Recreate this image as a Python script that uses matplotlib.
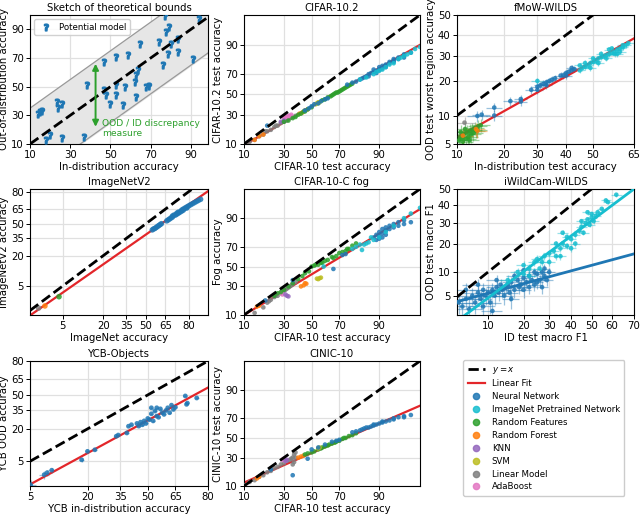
import math
from statistics import NormalDist

import numpy as np
import matplotlib
matplotlib.use("Agg")
import matplotlib.pyplot as plt
from matplotlib.lines import Line2D
from matplotlib.ticker import NullLocator

# ---------------------------------------------------------------- colours
NN, INET, RFEAT, FOREST = "#1f77b4", "#17becf", "#2ca02c", "#ff7f0e"
KNN, SVM, LINEAR, ADA = "#9467bd", "#bcbd22", "#7f7f7f", "#e377c2"
FIT = "#e3262a"

# ---------------------------------------------------------------- sketch panel
Q_X = [14, 15, 16, 23.5, 25.7, 24, 20, 18, 25.7, 37, 38.4, 47, 47, 48, 49.6, 53, 53, 53,
       58.7, 57, 56, 62.8, 62.3, 62.8, 63.6, 64.5, 67.8, 69.4, 74, 76, 78.5, 79.3, 77.7,
       80, 83.4, 83.4, 91, 94, 77]
Q_Y = [31, 32, 33, 39.5, 37.8, 35, 16, 13, 14, 15, 51, 67, 47.5, 44, 38, 71, 51, 44,
       72, 49.5, 37, 43, 53.4, 58, 61.5, 80, 49.5, 50.4, 81, 65, 73, 91.6, 88,
       80, 74, 83, 69.6, 97.5, 99]
BAND = 25
ARROW_X, ARROW_LO, ARROW_HI = 42.6, 22, 66

# ---------------------------------------------------------------- CIFAR-10.2
C102_FIT = (0.777, -0.314)
C102_NN_X = [20, 45, 48, 50, 52, 55, 57, 60, 62, 75, 78, 80, 82, 84, 85, 86, 87, 88, 88, 89,
             89, 90, 90, 91, 91, 92, 92, 93, 93, 94, 94, 95, 95, 96, 96, 97, 83, 86, 90, 92, 94, 96]
C102_NN_Y = [21, 34, 36, 38, 40, 41, 43, 45, 46, 60, 62, 63, 65, 67, 68, 70, 71, 72, 74, 73,
             71, 74, 76, 75, 77, 77, 78, 79, 80, 80, 82, 82, 83, 84, 85, 86, 66, 68, 73.5, 76, 81, 83]
C102_IN_X = [82, 85, 88, 89, 90, 91, 92, 93, 94, 95, 95.5, 96, 96.5, 97, 97.5, 98]
C102_IN_Y = [65, 67, 70, 72, 73, 74, 76, 78, 79, 82, 83, 84, 85, 86, 88, 89]
C102_RF_X = [30, 33, 36, 38, 40, 42, 44, 45, 47, 50, 55, 58, 60, 62, 64, 65, 66, 67, 68, 69,
             70, 71, 72, 73, 74, 75, 76, 77, 78]
C102_RF_Y = [24, 25, 27, 28, 30, 31, 33, 33, 35, 37, 41, 44, 45, 47, 48, 49, 50, 51, 52, 52,
             53, 54, 55, 56, 57, 58, 59, 60, 61]
C102_FOREST_X = [14, 16, 18, 41, 43, 45, 47]
C102_FOREST_Y = [12, 14, 15, 31, 32, 34, 35]
C102_KNN_X = [28, 30]
C102_KNN_Y = [24, 25]
C102_SVM_X = [53, 54, 55, 56]
C102_SVM_Y = [40, 41, 42, 42]
C102_LIN_X = [10, 11, 12, 14, 16, 18, 19, 20, 22, 24, 25, 26, 28, 30, 31, 32, 34, 35, 36, 38]
C102_LIN_Y = [10, 10.5, 11, 12, 14, 15, 17, 17, 18, 20, 21, 21, 23, 24, 25, 25, 27, 28, 28, 29]
C102_ADA_X = [30, 31, 32, 33, 34, 35]
C102_ADA_Y = [27, 28, 28, 29, 29, 30]

# ---------------------------------------------------------------- fMoW-WILDS
FMOW_FIT = (0.758, -0.59)
FMOW_ERR = (2.0, 1.2)
FMOW_NN_X = [13.8, 14.7, 17.6, 17.6, 21.8, 24.8, 24.8, 28, 30, 30, 31, 32, 33, 33, 34,
             35, 36, 38, 39, 40, 40, 41, 42, 42, 43]
FMOW_NN_Y = [9.9, 10.2, 11.9, 10, 13.6, 14.2, 13.5, 17, 18, 17, 18.5, 19, 19.5, 18.5, 20,
             20.5, 21, 22, 22, 23, 22, 23.5, 24, 25, 24.5]
FMOW_IN_X = [30, 45, 45, 46, 47, 47, 48, 49, 49, 50, 50, 51, 52, 52, 53, 53, 54, 55, 55, 56,
             56, 57, 57, 58, 58, 59, 59, 60, 60, 61, 61, 62, 63]
FMOW_IN_Y = [20, 24, 26, 25, 25.5, 27, 26, 27, 25, 27.5, 29, 28, 29, 27, 29.5, 31, 30, 30.5, 29, 31,
             33, 31.5, 33.5, 32, 31, 33, 31, 33.5, 32, 34, 35, 35, 36]
FMOW_RF_X = [10.3, 10.5, 10.6, 10.8, 11, 11, 11.2, 11.4, 11.5, 11.8, 12, 12.2, 12.3, 12.5,
             12.8, 13, 13.3, 13.5, 13.8, 14, 14.5]
FMOW_RF_Y = [5.5, 6, 6.8, 5.8, 6.2, 5.3, 6.5, 7.3, 5.7, 6.8, 6, 5.5, 7, 6.4,
             7.2, 6.6, 7.5, 7, 7.2, 7.8, 8]
FMOW_FOREST_X = [11, 13.5, 13.8]
FMOW_FOREST_Y = [6.2, 7.3, 7]
FMOW_LIN_X = [11.3]
FMOW_LIN_Y = [8.5]

# ---------------------------------------------------------------- ImageNetV2
INV2_FIT = (0.932, -0.286)
INV2_NN_X = [55, 56, 57, 58, 59, 60, 61, 62, 66, 67, 68, 69, 70, 70, 71, 72, 73, 73, 74, 74,
             75, 76, 76, 77, 77, 78, 79, 79, 80, 81, 82, 83, 84, 85, 86]
INV2_NN_Y = [43.5, 44.5, 45, 46, 47, 48, 49, 50, 53, 54, 55, 56, 57, 58, 59, 59, 60, 61, 61, 62,
             62, 63, 64, 64, 65, 66, 66, 67, 68, 69, 70, 71, 72, 73, 74]
INV2_RF_X, INV2_RF_Y = [4.3], [2.7]
INV2_FOREST_X, INV2_FOREST_Y = [2.3], [1.5]
INV2_LIN_X, INV2_LIN_Y = [1.7], [1.3]

# ---------------------------------------------------------------- CIFAR-10-C fog
FOG_FIT = (0.84, -0.205)
FOG_NN_X = [19, 36, 66, 72, 74, 88, 89, 89, 90, 90, 90, 91, 91, 91, 92, 92, 92, 93, 93, 94,
            94, 95, 95, 96, 96, 97]
FOG_NN_Y = [18.5, 36, 47.5, 62, 63, 78, 80, 76, 79, 82, 77, 81, 84, 78, 83, 85, 80, 84, 86, 85,
            87, 86, 88, 87, 89, 88]
FOG_IN_X = [59, 78, 80, 82, 83, 84, 85, 86, 87, 88, 90, 92, 94, 96, 97, 98]
FOG_IN_Y = [50, 68, 70, 72, 67, 72, 73, 74, 78, 76, 78, 82, 86, 90, 92, 94]
FOG_RF_X = [24, 26, 28, 30, 33, 36, 40, 43, 45, 48, 50, 52, 53, 55, 57, 58, 60, 62, 65, 66,
            68, 70, 72, 74, 75, 76, 78, 80]
FOG_RF_Y = [22, 24, 25, 27, 30, 33, 37, 40, 43, 45, 50, 51, 52, 52, 54, 54, 56, 57, 60, 59,
            61, 64, 65, 66, 68, 68, 71, 73]
FOG_FOREST_X = [15, 16, 42, 44, 45, 46]
FOG_FOREST_Y = [14.5, 15, 30, 31, 33, 32.5]
FOG_KNN_X = [31, 32, 33]
FOG_KNN_Y = [23, 22, 21.5]
FOG_SVM_X = [54, 55, 56, 57]
FOG_SVM_Y = [37.5, 37, 38, 38.5]
FOG_LIN_X = [14, 18, 20, 21, 22, 24, 25, 26, 28, 30, 31, 32, 33, 34, 35, 36, 38]
FOG_LIN_Y = [11, 14, 17, 18, 19, 21, 22, 22, 24, 26, 27, 28, 29, 30, 31, 32, 34]
FOG_ADA_X = [27, 28, 29]
FOG_ADA_Y = [24, 24.5, 23]

# ---------------------------------------------------------------- iWildCam-WILDS
IWC_NN_FIT = (0.337, -1.177)
IWC_IN_FIT = (0.931, -0.488)
IWC_ERR = (2.5, 1.3)
IWC_NN_X = [5, 5.5, 6, 6.5, 7, 7.5, 8, 8.5, 9, 9.5, 10, 10.5, 11, 11.5, 12, 12.5, 13, 13.5,
            14, 14.5, 15, 15.5, 16, 17, 18, 18.5, 19, 20, 20, 21, 22, 22, 23, 24, 25, 25,
            26, 27, 27, 28, 29, 30, 28, 24, 20, 17, 12, 8, 6, 9, 16, 11]
IWC_NN_Y = [4, 3.5, 4.5, 3.2, 5, 4, 5.5, 4.5, 6, 5, 5.5, 4, 6, 5, 6.5, 5.5, 7, 6,
            5, 6.5, 7, 5.5, 7.5, 6, 8, 6.5, 7, 8.5, 6, 7.5, 9, 6.5, 8, 7, 9.5, 7.5,
            8, 10, 6.5, 9, 8, 10, 11, 10, 10.5, 9, 8, 7, 6, 3.5, 4.5, 3]
IWC_IN_X = [15, 18, 20, 20, 22, 22, 24, 25, 26, 27, 28, 30, 30, 32, 33, 33, 35, 35, 36, 36,
            38, 38, 40, 40, 42, 42, 44, 45, 45, 46, 47, 48, 48, 49, 50, 50, 51, 52, 53, 55,
            57, 58, 62]
IWC_IN_Y = [8, 10, 12, 9.5, 11, 9, 13, 14, 11, 13, 15, 16, 13, 17, 15, 20, 18, 15, 20, 25,
            19, 23, 22, 18, 24, 20, 26, 28, 31, 25, 30, 32, 36, 29, 33, 35, 31, 34, 36, 38,
            43, 42, 46.5]

# ---------------------------------------------------------------- YCB-Objects
YCB_FIT = (0.966, -0.63)
YCB_ERR = (0.9, 0.5)
YCB_NN_X = [5.1, 7.4, 8, 9, 17.8, 20, 23, 33, 34, 38.5, 39.4, 41, 44, 45, 46, 47, 48, 49, 50,
            51, 52, 52, 53, 54, 55, 55, 56, 57, 58, 59, 60, 61, 62, 63, 64, 65, 70, 70.6, 71, 75.3]
YCB_NN_Y = [1.3, 2.4, 2.7, 3.1, 5.4, 8.1, 8.7, 15.3, 16, 17.3, 21.9, 23, 24, 22, 25, 23, 26, 24, 28,
            27, 32, 37.5, 26, 34.5, 30, 37.5, 29, 36.5, 33, 31.5, 35, 37.5, 33, 40, 36, 38, 49, 40.8, 42, 47]

# ---------------------------------------------------------------- CINIC-10
CINIC_FIT = (0.615, -0.402)
CINIC_NN_X = [22, 36, 47, 50, 55, 60, 65, 68, 70, 78, 80, 82, 83, 84, 85, 86, 87, 88, 88, 89,
              90, 91, 91, 92, 93, 94, 94, 95, 96, 96, 97]
CINIC_NN_Y = [20, 16, 29, 38, 40, 43, 46, 47, 48, 56, 57, 58, 59, 60, 61, 61, 62, 63, 64, 64,
              65, 66, 67, 67, 68, 69, 70, 71, 72, 71, 73]
CINIC_RF_X = [45, 47, 50, 52, 55, 57, 58, 60, 62, 63, 65, 67, 68, 70, 72, 73, 74, 76, 78, 80]
CINIC_RF_Y = [33, 34, 35, 36, 38, 39, 40, 41, 42, 43, 44, 45, 46, 47, 49, 50, 50, 52, 53, 55]
CINIC_FOREST_X = [15, 16, 40, 42, 44]
CINIC_FOREST_Y = [14, 15, 30, 31, 32]
CINIC_KNN_X = [31, 32]
CINIC_KNN_Y = [27, 28]
CINIC_SVM_X = [55, 56]
CINIC_SVM_Y = [39, 40]
CINIC_LIN_X = [10, 12, 14, 16, 18, 20, 22, 24, 26, 28, 30, 32, 34, 35, 36, 36, 37, 37, 38, 38]
CINIC_LIN_Y = [10.5, 12, 13, 15, 16, 18, 19, 21, 22, 24, 25, 27, 28, 29, 30, 24, 26, 33, 35, 30]
CINIC_ADA_X = [29, 30, 31]
CINIC_ADA_Y = [28, 29, 27]

LEGEND_LABELS = ["Neural Network", "ImageNet Pretrained Network", "Random Features",
                 "Random Forest", "KNN", "SVM", "Linear Model", "AdaBoost"]
LEGEND_COLORS = [NN, INET, RFEAT, FOREST, KNN, SVM, LINEAR, ADA]

FS = 7.3

# ---------------------------------------------------------------- probit scale
_nd = NormalDist()


def _inv(v):
    if not np.isfinite(v):
        return np.nan
    return _nd.inv_cdf(min(max(v, 1e-9), 1 - 1e-9))


_inv_v = np.vectorize(_inv, otypes=[float])
_erf_v = np.vectorize(math.erf, otypes=[float])


def to_probit(a):
    return _inv_v(np.asarray(a, dtype=float) / 100.0)


def from_probit(p):
    return 50.0 * (1.0 + _erf_v(np.asarray(p, dtype=float) / math.sqrt(2.0)))


def setup_probit(ax, xlim, ylim, xticks, yticks):
    ax.set_xscale("function", functions=(to_probit, from_probit))
    ax.set_yscale("function", functions=(to_probit, from_probit))
    ax.set_xlim(*xlim)
    ax.set_ylim(*ylim)
    ax.set_xticks(xticks)
    ax.set_xticklabels([str(t) for t in xticks])
    ax.set_yticks(yticks)
    ax.set_yticklabels([str(t) for t in yticks])
    ax.xaxis.set_minor_locator(NullLocator())
    ax.yaxis.set_minor_locator(NullLocator())
    style(ax)


def style(ax):
    ax.grid(True, color="#e0e0e0", lw=0.9)
    ax.set_axisbelow(True)
    ax.tick_params(labelsize=FS, length=3, width=0.7, pad=1.5)
    for sp in ax.spines.values():
        sp.set_linewidth(0.8)


def diag(ax, lo, hi):
    ax.plot([lo, hi], [lo, hi], color="k", ls="--", lw=2, zorder=4)


def fit_line(ax, fit, xlo, xhi, color=FIT, lw=1.6, z=2.5):
    xs = np.array([xlo, xhi], dtype=float)
    ys = from_probit(fit[0] * to_probit(xs) + fit[1])
    ax.plot(xs, ys, color=color, lw=lw, zorder=z)


def dots(ax, xs, ys, color, s=11, err=None):
    if err is not None:
        ax.errorbar(xs, ys, xerr=err[0], yerr=err[1], fmt="none", ecolor=color,
                    elinewidth=0.9, alpha=0.45, zorder=2)
    ax.scatter(xs, ys, s=s, color=color, alpha=0.85, edgecolors="none", zorder=3)


def labels(ax, title, xl, yl):
    ax.set_title(title, fontsize=FS, pad=3)
    ax.set_xlabel(xl, fontsize=FS, labelpad=1)
    ax.set_ylabel(yl, fontsize=FS, labelpad=1)


fig = plt.figure(figsize=(6.4, 5.16), dpi=100)
W, H = 640.0, 516.0
COLS = [(30, 208), (244, 420), (457, 634)]
ROWS = [(15, 144), (189, 315), (361, 486)]


def panel(r, c):
    (l, rr), (t, b) = COLS[c], ROWS[r]
    return fig.add_axes([l / W, 1 - b / H, (rr - l) / W, (b - t) / H])


CIF_TICKS = [10, 30, 50, 70, 90]

# ---- sketch
ax = panel(0, 0)
ax.set_xlim(10, 98.5)
ax.set_ylim(10, 100)
bx = np.array([10, 98.5])
ax.fill_between(bx, bx - BAND, bx + BAND, color="#e6e6e6", zorder=1)
ax.plot(bx, bx + BAND, color="#999999", lw=0.9, zorder=1.5)
ax.plot(bx, bx - BAND, color="#999999", lw=0.9, zorder=1.5)
diag(ax, 10, 100)
ax.scatter(Q_X, Q_Y, marker=r"$\mathbf{?}$", s=24, color=NN, zorder=3, label="Potential model")
ax.annotate("", xy=(ARROW_X, ARROW_HI), xytext=(ARROW_X, ARROW_LO),
            arrowprops=dict(arrowstyle="<|-|>", color=RFEAT, lw=1.4,
                            mutation_scale=9, shrinkA=0, shrinkB=0), zorder=5)
ax.text(46, 21, "OOD / ID discrepancy\nmeasure", color=RFEAT, fontsize=6.6,
        va="center", ha="left", zorder=5)
ax.set_xticks(CIF_TICKS)
ax.set_yticks(CIF_TICKS)
style(ax)
ax.legend(loc="upper left", fontsize=6.2, handletextpad=0.5, borderpad=0.4,
          framealpha=0.9)
labels(ax, "Sketch of theoretical bounds", "In-distribution accuracy",
       "Out-of-distribution accuracy")

# ---- CIFAR-10.2
ax = panel(0, 1)
setup_probit(ax, (10, 98), (10, 98), CIF_TICKS, CIF_TICKS)
diag(ax, 10, 98)
fit_line(ax, C102_FIT, 10, 98)
dots(ax, C102_LIN_X, C102_LIN_Y, LINEAR)
dots(ax, C102_ADA_X, C102_ADA_Y, ADA)
dots(ax, C102_KNN_X, C102_KNN_Y, KNN)
dots(ax, C102_FOREST_X, C102_FOREST_Y, FOREST)
dots(ax, C102_RF_X, C102_RF_Y, RFEAT)
dots(ax, C102_SVM_X, C102_SVM_Y, SVM)
dots(ax, C102_NN_X, C102_NN_Y, NN)
dots(ax, C102_IN_X, C102_IN_Y, INET)
labels(ax, "CIFAR-10.2", "CIFAR-10 test accuracy", "CIFAR-10.2 test accuracy")

# ---- fMoW
ax = panel(0, 2)
setup_probit(ax, (10, 65), (5, 50), [10, 20, 30, 40, 50, 65], [5, 10, 20, 30, 40, 50])
diag(ax, 10, 50)
fit_line(ax, FMOW_FIT, 10, 65)
dots(ax, FMOW_RF_X, FMOW_RF_Y, RFEAT, err=FMOW_ERR)
dots(ax, FMOW_LIN_X, FMOW_LIN_Y, LINEAR, err=FMOW_ERR)
dots(ax, FMOW_FOREST_X, FMOW_FOREST_Y, FOREST, err=FMOW_ERR)
dots(ax, FMOW_NN_X, FMOW_NN_Y, NN, err=FMOW_ERR)
dots(ax, FMOW_IN_X, FMOW_IN_Y, INET, err=FMOW_ERR)
labels(ax, "fMoW-WILDS", "In-distribution test accuracy", "OOD test worst region accuracy")

# ---- ImageNetV2
ax = panel(1, 0)
setup_probit(ax, (1.1, 89), (0.8, 82), [5, 20, 35, 50, 65, 80], [5, 20, 35, 50, 65, 80])
diag(ax, 1.1, 89)
fit_line(ax, INV2_FIT, 0.5, 95)
dots(ax, INV2_LIN_X, INV2_LIN_Y, LINEAR, s=16)
dots(ax, INV2_FOREST_X, INV2_FOREST_Y, FOREST, s=16)
dots(ax, INV2_RF_X, INV2_RF_Y, RFEAT, s=16)
dots(ax, INV2_NN_X, INV2_NN_Y, NN, s=16)
labels(ax, "ImageNetV2", "ImageNet accuracy", "ImageNetV2 accuracy")

# ---- CIFAR-10-C fog
ax = panel(1, 1)
setup_probit(ax, (10, 98), (10, 98), CIF_TICKS, CIF_TICKS)
diag(ax, 10, 98)
fit_line(ax, FOG_FIT, 10, 98)
dots(ax, FOG_LIN_X, FOG_LIN_Y, LINEAR)
dots(ax, FOG_ADA_X, FOG_ADA_Y, ADA)
dots(ax, FOG_KNN_X, FOG_KNN_Y, KNN)
dots(ax, FOG_FOREST_X, FOG_FOREST_Y, FOREST)
dots(ax, FOG_RF_X, FOG_RF_Y, RFEAT)
dots(ax, FOG_SVM_X, FOG_SVM_Y, SVM)
dots(ax, FOG_NN_X, FOG_NN_Y, NN)
dots(ax, FOG_IN_X, FOG_IN_Y, INET)
labels(ax, "CIFAR-10-C fog", "CIFAR-10 test accuracy", "Fog accuracy")

# ---- iWildCam
ax = panel(1, 2)
setup_probit(ax, (4.8, 70), (2.6, 50), [10, 20, 30, 40, 50, 60, 70], [5, 10, 20, 30, 40, 50])
diag(ax, 4.8, 50)
dots(ax, IWC_NN_X, IWC_NN_Y, NN, err=IWC_ERR)
dots(ax, IWC_IN_X, IWC_IN_Y, INET, err=IWC_ERR)
fit_line(ax, IWC_NN_FIT, 4.8, 70, color=NN, lw=2, z=4)
fit_line(ax, IWC_IN_FIT, 4.8, 70, color=INET, lw=2, z=4)
labels(ax, "iWildCam-WILDS", "ID test macro F1", "OOD test macro F1")

# ---- YCB
ax = panel(2, 0)
setup_probit(ax, (5, 80), (1.2, 80), [5, 20, 35, 50, 65, 80], [5, 20, 35, 50, 65, 80])
diag(ax, 5, 80)
fit_line(ax, YCB_FIT, 5, 80)
dots(ax, YCB_NN_X, YCB_NN_Y, NN, s=12, err=YCB_ERR)
labels(ax, "YCB-Objects", "YCB in-distribution accuracy", "YCB OOD accuracy")

# ---- CINIC-10
ax = panel(2, 1)
setup_probit(ax, (10, 98), (10, 98), CIF_TICKS, CIF_TICKS)
diag(ax, 10, 98)
fit_line(ax, CINIC_FIT, 10, 98)
dots(ax, CINIC_LIN_X, CINIC_LIN_Y, LINEAR)
dots(ax, CINIC_ADA_X, CINIC_ADA_Y, ADA)
dots(ax, CINIC_KNN_X, CINIC_KNN_Y, KNN)
dots(ax, CINIC_FOREST_X, CINIC_FOREST_Y, FOREST)
dots(ax, CINIC_RF_X, CINIC_RF_Y, RFEAT)
dots(ax, CINIC_SVM_X, CINIC_SVM_Y, SVM)
dots(ax, CINIC_NN_X, CINIC_NN_Y, NN)
labels(ax, "CINIC-10", "CIFAR-10 test accuracy", "CINIC-10 test accuracy")

# ---- legend panel
handles = [Line2D([], [], color="k", ls="--", lw=2),
           Line2D([], [], color=FIT, lw=1.6)]
handles += [Line2D([], [], marker="o", ls="", ms=4.5, color=c, alpha=0.85)
            for c in LEGEND_COLORS]
fig.legend(handles, ["$y = x$", "Linear Fit"] + LEGEND_LABELS,
           loc="upper left", bbox_to_anchor=(459 / W, 1 - 356 / H),
           fontsize=6.2, handlelength=2.0, handletextpad=0.8, borderpad=0.5,
           labelspacing=0.45, framealpha=1, edgecolor="#cccccc")

fig.savefig("out.png", dpi=100)
